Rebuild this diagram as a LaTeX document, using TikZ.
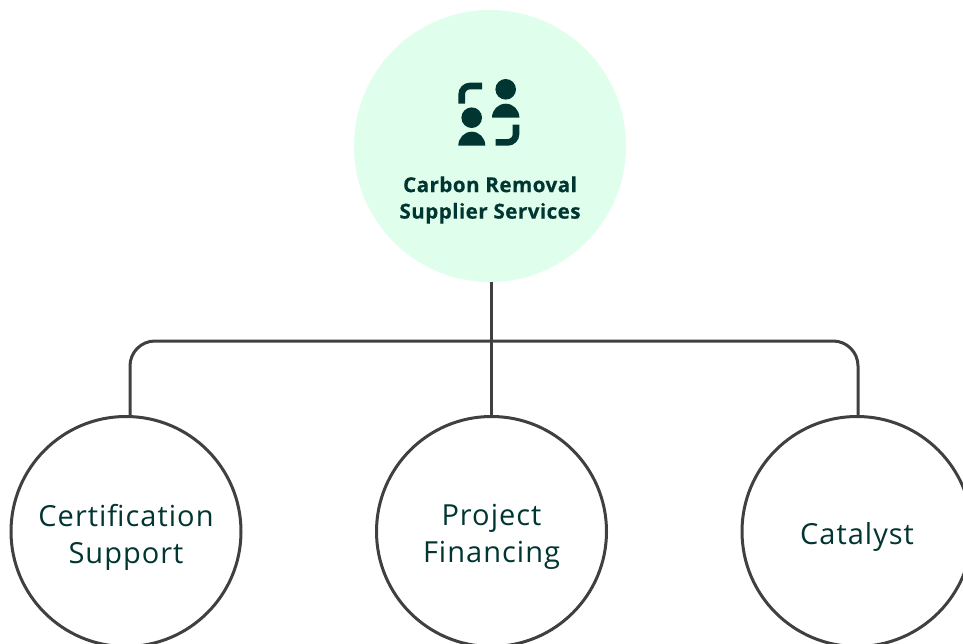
\documentclass[tikz,border=0pt]{standalone}
\usepackage{fontspec}
\setmainfont{Open Sans}
\definecolor{ink}{HTML}{003532}
\definecolor{edge}{HTML}{404040}
\definecolor{mint}{HTML}{DFFFEC}
\tikzset{
  leaf/.style={circle,draw=edge,line width=3pt,fill=white,minimum size=230pt,inner sep=0pt,outer sep=0pt},
  leaflabel/.style={text=ink,align=center,inner sep=0pt,font=\fontsize{29}{37}\selectfont\addfontfeature{LetterSpace=3.5}},
  hub/.style={circle,fill=mint,minimum size=272pt,inner sep=0pt,outer sep=0pt},
  hublabel/.style={text=ink,align=center,inner sep=0pt,font=\fontsize{20.6}{26.5}\selectfont\bfseries\addfontfeature{LetterSpace=2.2,FakeBold=0.4}},
  conn/.style={draw=edge,line width=3pt},
  glyph/.style={fill=ink,draw=none},
  bracket/.style={draw=ink,line width=6.6pt,rounded corners=8.3pt}
}
\begin{document}
\begin{tikzpicture}[x=1pt,y=-1pt]
\useasboundingbox (0,0) rectangle (963,644);
\node[hub] (top) at (490,146) {};
\node[hublabel] (toplabel) at (490,200) {Carbon Removal\\Supplier Services};
\node[leaf] (cert) at (126,531.5) {};
\node[leaf] (proj) at (491.5,531.5) {};
\node[leaf] (cat) at (857,531.5) {};
\node[leaflabel] (certlabel) at (126,537) {Certification\\Support};
\node[leaflabel] (projlabel) at (491.5,537) {Project\\Financing};
\node[leaflabel] (catlabel) at (857,537) {Catalyst};
\coordinate (busL) at (130,341);
\coordinate (busR) at (858,341);
\draw[conn] (top.south -| proj.north) -- (proj.north);
\draw[conn,rounded corners=25pt] (cert.north -| busL) -- (busL) -- (busR) -- (cat.north -| busR);
% icon
\draw[bracket] (482,86) -- (461.7,86) -- (461.7,103.7);
\draw[bracket] (495.7,142.4) -- (516,142.4) -- (516,124.7);
\fill[glyph] (505.7,89.3) circle[radius=10.3];
\fill[glyph] (492,117.7) arc[start angle=180,end angle=0,x radius=13.7,y radius=-14] -- cycle;
\fill[glyph] (471.7,117.7) circle[radius=10.3];
\fill[glyph] (458.3,145.7) arc[start angle=180,end angle=0,x radius=13.5,y radius=-14] -- cycle;
\end{tikzpicture}
\end{document}
